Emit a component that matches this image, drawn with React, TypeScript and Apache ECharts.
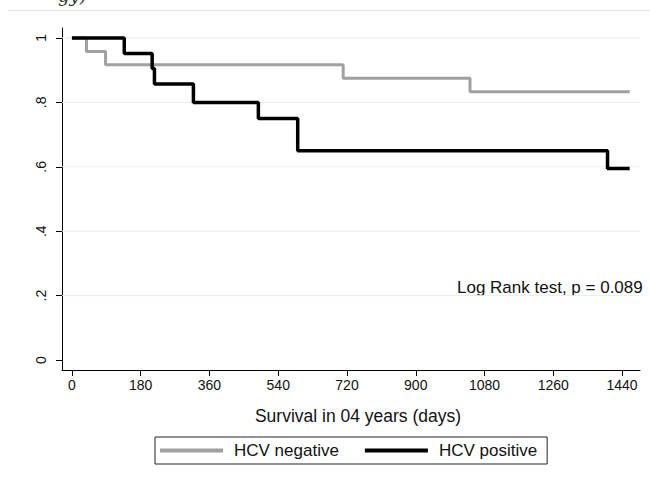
import React, { useEffect, useRef } from "react";
import * as echarts from "echarts";

const negTimes = [0, 38, 88, 710, 1042, 1460];
const negSurv = [1, 0.958, 0.917, 0.875, 0.833, 0.833];
const posTimes = [0, 137, 210, 216, 318, 488, 591, 1402, 1460];
const posSurv = [1, 0.952, 0.905, 0.857, 0.8, 0.75, 0.65, 0.595, 0.595];
const xTicks = [0, 180, 360, 540, 720, 900, 1080, 1260, 1440];
const yTicks = [0, 0.2, 0.4, 0.6, 0.8, 1];
const seriesNames = ["HCV negative", "HCV positive"];
const xTitle = "Survival in 04 years (days)";
const note = "Log Rank test, p = 0.089";

const X_MIN = -26;
const X_MAX = 1487;
const FONT = "'Liberation Sans', Arial, sans-serif";

export default function App() {
  const ref = useRef<HTMLDivElement>(null);
  useEffect(() => {
    if (!ref.current) return;
    const chart = echarts.init(ref.current, undefined, { renderer: "svg" });
    const neg = negTimes.map((t, i) => [t, negSurv[i]]);
    const pos = posTimes.map((t, i) => [t, posSurv[i]]);
    const gridSeries = yTicks
      .filter((v) => v > 0)
      .map((v) => ({
        name: "grid" + v,
        type: "line",
        data: [
          [X_MIN, v],
          [X_MAX, v],
        ],
        symbol: "none",
        silent: true,
        z: 1,
        lineStyle: { color: "#e8eeee", width: 1 },
      }));
    chart.setOption({
      animation: false,
      backgroundColor: "#ffffff",
      textStyle: { fontFamily: FONT },
      grid: { left: 62, right: 10, top: 28, bottom: 114, containLabel: false },
      xAxis: {
        type: "value",
        min: X_MIN,
        max: X_MAX,
        name: xTitle,
        nameLocation: "middle",
        nameGap: 37,
        nameTextStyle: { fontSize: 17.5, color: "#111", fontFamily: FONT, padding: [0, 0, 0, 14] },
        axisLine: { show: true, onZero: false, lineStyle: { color: "#000", width: 1 } },
        axisTick: { show: true, length: 6, customValues: xTicks, lineStyle: { color: "#000" } },
        axisLabel: {
          customValues: xTicks,
          fontSize: 14,
          color: "#111",
          margin: 8,
          fontFamily: FONT,
          formatter: (v: number) => String(v),
        },
        splitLine: { show: false },
      },
      yAxis: {
        type: "value",
        min: -0.031,
        max: 1.031,
        axisLine: { show: true, onZero: false, lineStyle: { color: "#000", width: 1 } },
        axisTick: { show: true, length: 6, customValues: yTicks, lineStyle: { color: "#000" } },
        axisLabel: {
          customValues: yTicks,
          rotate: 90,
          fontSize: 14,
          color: "#111",
          margin: 14,
          fontFamily: FONT,
          formatter: (v: number) => (v === 0 ? "0" : v === 1 ? "1" : "." + Math.round(v * 10)),
        },
        splitLine: { show: false },
      },
      legend: {
        data: seriesNames,
        left: 155,
        top: 437,
        orient: "horizontal",
        icon: "rect",
        itemWidth: 63,
        itemHeight: 4,
        itemGap: 26,
        padding: [5, 10, 5, 5],
        borderColor: "#222",
        borderWidth: 1,
        textStyle: { fontSize: 17, color: "#111", fontFamily: FONT, padding: [0, 0, 0, 6] },
      },
      graphic: [
        { type: "line", shape: { x1: 8, y1: 10.5, x2: 650, y2: 10.5 }, style: { stroke: "#e4e4e4", lineWidth: 1 } },
        {
          type: "text",
          x: 58,
          y: 4,
          style: { text: "gy)", font: "italic 18px 'DejaVu Serif', serif", fill: "#333", verticalAlign: "bottom" },
        },
        {
          type: "text",
          x: 457,
          y: 287,
          style: { text: note, font: "17px " + FONT, fill: "#111", verticalAlign: "middle" },
        },
      ],
      series: [
        ...gridSeries,
        {
          name: seriesNames[0],
          type: "line",
          step: "end",
          data: neg,
          showSymbol: false,
          symbol: "none",
          z: 3,
          itemStyle: { color: "#a0a0a0" },
          lineStyle: { color: "#a0a0a0", width: 3 },
        },
        {
          name: seriesNames[1],
          type: "line",
          step: "end",
          data: pos,
          showSymbol: false,
          symbol: "none",
          z: 4,
          itemStyle: { color: "#000000" },
          lineStyle: { color: "#000000", width: 3.5 },
        },
      ],
    });
    return () => chart.dispose();
  }, []);
  return <div ref={ref} style={{ position: "fixed", left: 0, top: 0, width: 650, height: 484 }} />;
}
